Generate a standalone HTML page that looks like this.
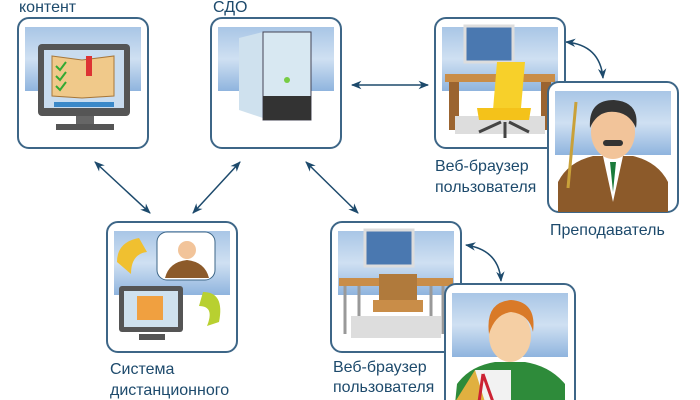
<!DOCTYPE html>
<html><head><meta charset="utf-8"><style>
html,body{margin:0;padding:0;background:#fff;width:700px;height:400px;overflow:hidden}
svg text{font-family:"Liberation Sans",sans-serif;font-size:16px;fill:#1d4a6c}
</style></head><body>
<svg width="700" height="400" viewBox="0 0 700 400" xmlns="http://www.w3.org/2000/svg">
<defs>
<linearGradient id="band" x1="0" y1="0" x2="0" y2="1">
<stop offset="0" stop-color="#a9c6e6"/><stop offset="0.5" stop-color="#cfe0f2"/><stop offset="1" stop-color="#8fb4de"/></linearGradient>
<marker id="ah" viewBox="0 0 10 10" refX="9" refY="5" markerWidth="9" markerHeight="7" orient="auto-start-reverse"><path d="M0,1 L10,5 L0,9 L3,5z" fill="#1d4a6c"/></marker>
<g id="box"><rect x="0" y="0" width="130" height="130" rx="11" fill="#fff" stroke="#3d6687" stroke-width="2"/><rect x="7" y="9" width="116" height="64" fill="url(#band)"/></g>
</defs>
<!-- connectors -->
<g stroke="#1d4a6c" stroke-width="1.5" fill="none" marker-start="url(#ah)" marker-end="url(#ah)">
<line x1="95" y1="162" x2="150" y2="213"/>
<line x1="240" y1="162" x2="193" y2="213"/>
<line x1="306" y1="162" x2="358" y2="213"/>
<line x1="352" y1="85" x2="428" y2="85"/>
<path d="M566,42 Q600,45 603,78"/>
<path d="M466,245 Q499,250 501,281"/>
</g>
<!-- box1 -->
<g transform="translate(18,18)"><use href="#box"/>
<rect x="20" y="26" width="92" height="72" rx="4" fill="#555"/><rect x="26" y="32" width="80" height="58" fill="#c9dcef"/>
<path d="M34,38 L64,42 L96,38 L96,78 L64,80 L34,78z" fill="#f0c98a" stroke="#a7773a"/>
<rect x="68" y="38" width="6" height="20" fill="#d33"/>
<path d="M38,48l4,4 6,-8M38,58l4,4 6,-8M38,68l4,4 6,-8" stroke="#3a3" stroke-width="2" fill="none"/>
<rect x="36" y="84" width="60" height="5" fill="#3a88c8"/>
<rect x="58" y="98" width="18" height="10" fill="#666"/><rect x="38" y="106" width="58" height="6" fill="#555"/></g>
<!-- box2 -->
<g transform="translate(211,18)"><use href="#box"/>
<path d="M28,20 L52,14 L52,100 L28,92z" fill="#cfe1ee"/><rect x="52" y="14" width="48" height="88" fill="#d8e8f2" stroke="#445"/>
<rect x="52" y="78" width="48" height="24" fill="#333"/><circle cx="76" cy="62" r="3" fill="#7c4"/></g>
<!-- box3 -->
<g transform="translate(435,18)"><use href="#box"/>
<rect x="30" y="8" width="48" height="36" fill="#4a78b0" stroke="#ddd" stroke-width="3"/>
<rect x="10" y="56" width="110" height="8" fill="#c98d48"/><rect x="14" y="64" width="10" height="48" fill="#9b6430"/><rect x="106" y="64" width="10" height="48" fill="#9b6430"/>
<rect x="20" y="98" width="90" height="18" fill="#ddd"/>
<path d="M62,44 L90,44 L86,90 L58,92z" fill="#f7d02a"/><path d="M42,90 L96,90 L94,102 L44,102z" fill="#f4c21a"/>
<path d="M66,104 l-22,10 M70,104 v16 M74,104 l20,10" stroke="#444" stroke-width="3"/></g>
<!-- box4 teacher -->
<g transform="translate(548,82)"><use href="#box"/>
<path d="M10,130 L10,100 Q20,80 45,74 L85,74 Q110,80 120,100 L120,130z" fill="#8c5a2a"/>
<path d="M55,74 L65,120 L75,74z" fill="#fff"/><path d="M62,80 L65,110 L68,80z" fill="#1a7a3a"/>
<ellipse cx="65" cy="50" rx="22" ry="27" fill="#f2c49a"/><path d="M42,46 Q40,18 66,18 Q92,20 88,46 Q80,28 60,30 Q48,32 42,46z" fill="#333"/>
<rect x="55" y="58" width="20" height="6" rx="3" fill="#333"/>
<line x1="20" y1="106" x2="28" y2="20" stroke="#c9a13a" stroke-width="3"/></g>
<!-- box5 -->
<g transform="translate(107,222)"><use href="#box"/>
<path d="M10,40 Q10,20 32,16 L40,30 Q24,32 24,52z" fill="#f0c030"/>
<rect x="50" y="10" width="58" height="48" rx="10" fill="#fff" stroke="#3d6687"/>
<path d="M58,56 Q62,40 80,38 Q98,40 102,56z" fill="#8c5a2a"/><circle cx="80" cy="28" r="9" fill="#f2c49a"/>
<rect x="12" y="64" width="64" height="46" rx="3" fill="#555"/><rect x="17" y="69" width="54" height="36" fill="#cfe1ee"/>
<rect x="30" y="74" width="26" height="24" fill="#f0a040"/>
<path d="M96,70 Q118,70 112,100 L100,104 Q108,84 92,84z" fill="#b8d030"/>
<rect x="0" y="114" width="0" height="0"/><rect x="32" y="112" width="26" height="6" fill="#555"/></g>
<!-- box6 -->
<g transform="translate(331,222)"><use href="#box"/>
<rect x="34" y="8" width="48" height="36" fill="#4a78b0" stroke="#ddd" stroke-width="3"/>
<rect x="8" y="56" width="114" height="8" fill="#c98d48"/>
<path d="M14,64 v48 M28,64 v48 M100,64 v48 M112,64 v48" stroke="#999" stroke-width="3"/>
<rect x="20" y="94" width="90" height="22" fill="#ddd"/>
<rect x="48" y="52" width="38" height="28" fill="#b07a3c"/><rect x="42" y="78" width="50" height="12" fill="#c98d48"/></g>
<!-- box7 student -->
<g transform="translate(445,284)"><rect x="0" y="0" width="130" height="130" rx="11" fill="#fff" stroke="#3d6687" stroke-width="2"/><rect x="7" y="9" width="116" height="64" fill="url(#band)"/>
<path d="M10,120 L12,100 Q25,82 50,78 L80,78 Q105,82 120,100 L120,120z" fill="#2e8b3a"/>
<ellipse cx="65" cy="52" rx="21" ry="26" fill="#f5cfa4"/><path d="M44,50 Q40,18 66,16 Q92,18 88,48 Q84,30 66,28 Q50,30 44,50z" fill="#d97a28"/>
<rect x="30" y="86" width="36" height="34" fill="#f2f2f2"/><path d="M10,118 L30,86 L40,118z" fill="#e0b040"/><path d="M38,90 L34,118 M38,90 L48,118" stroke="#c23" stroke-width="3"/></g>
<!-- labels -->
<text x="19" y="12">контент</text>
<text x="213" y="12">СДО</text>
<text x="435" y="171">Веб-браузер</text><text x="435" y="192">пользователя</text>
<text x="550" y="235">Преподаватель</text>
<text x="110" y="374">Система</text><text x="110" y="395">дистанционного</text>
<text x="333" y="372">Веб-браузер</text><text x="333" y="392">пользователя</text>
</svg>
</body></html>
